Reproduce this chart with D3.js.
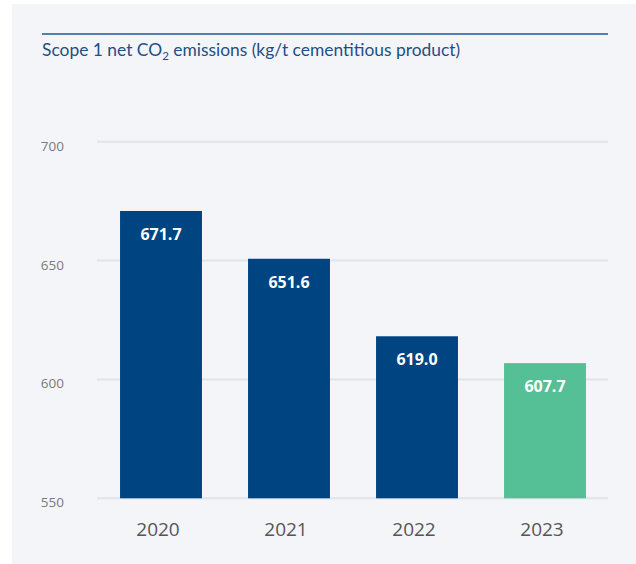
<!DOCTYPE html>
<html>
<head>
<meta charset="utf-8">
<script src="https://cdn.jsdelivr.net/npm/d3@7"></script>
<style>
  html, body { margin: 0; padding: 0; background: #ffffff; }
  svg { display: block; }
</style>
</head>
<body>
<svg id="chart" width="636" height="564"></svg>
<script>
// Scope 1 net CO2 intensity by year
const years = ["2020", "2021", "2022", "2023"];
const emissions = [671.7, 651.6, 619.0, 607.7];
const barColors = ["#004481", "#004481", "#004481", "#55bf96"];
const yTicks = [550, 600, 650, 700];

const svg = d3.select("#chart");
const W = 636, H = 564;

// panel background
svg.append("rect")
  .attr("x", 12).attr("y", 4)
  .attr("width", W - 12).attr("height", H - 4)
  .attr("fill", "#f4f5f9");

// title rule and title
svg.append("line")
  .attr("x1", 42).attr("x2", 608)
  .attr("y1", 34).attr("y2", 34)
  .attr("stroke", "#1b5796").attr("stroke-width", 1.5);

const title = svg.append("text")
  .attr("x", 42).attr("y", 56)
  .attr("fill", "#1e4f86")
  .attr("font-family", "Lato, 'Open Sans', sans-serif")
  .attr("font-size", 17.4);
title.append("tspan").text("Scope 1 net CO");
title.append("tspan").attr("font-size", 11.5).attr("dy", 4).text("2");
title.append("tspan").attr("dy", -4).text(" emissions (kg/t cementitious product)");

const x = d3.scaleBand()
  .domain(years)
  .range([97, 609])
  .paddingInner(0.36)
  .paddingOuter(0.18);

const y = d3.scaleLinear()
  .domain([550, 700])
  .range([498.3, 141.7]);

// gridlines
svg.append("g")
  .selectAll("line")
  .data(yTicks)
  .join("line")
  .attr("x1", 97).attr("x2", 608)
  .attr("y1", d => y(d)).attr("y2", d => y(d))
  .attr("stroke", "#e3e4e8").attr("stroke-width", 2);

// y axis labels
const yAxis = svg.append("g")
  .attr("transform", "translate(64,0)")
  .call(d3.axisLeft(y).tickValues(yTicks).tickSize(0).tickPadding(0));
yAxis.select(".domain").remove();
yAxis.selectAll("text")
  .attr("dy", "0.85em")
  .attr("y", -3)
  .attr("fill", "#7a7a7a")
  .attr("font-family", "'Open Sans', sans-serif")
  .attr("font-size", 13.5);

// bars
svg.append("g")
  .selectAll("rect")
  .data(emissions)
  .join("rect")
  .attr("x", (d, i) => x(years[i]))
  .attr("y", d => y(d) + 2)
  .attr("width", x.bandwidth())
  .attr("height", d => y(550) - y(d) - 2)
  .attr("fill", (d, i) => barColors[i]);

// value labels inside bars
svg.append("g")
  .selectAll("text")
  .data(emissions)
  .join("text")
  .attr("x", (d, i) => x(years[i]) + x.bandwidth() / 2)
  .attr("y", d => y(d) + 31)
  .attr("text-anchor", "middle")
  .attr("fill", "#ffffff")
  .attr("font-family", "'Open Sans', sans-serif")
  .attr("font-weight", 700)
  .attr("font-size", 16)
  .text(d => d.toFixed(1));

// x axis labels
const xAxis = svg.append("g")
  .attr("transform", "translate(-3,0)")
  .call(d3.axisBottom(x).tickSize(0).tickPadding(0));
xAxis.select(".domain").remove();
xAxis.selectAll("text")
  .attr("y", 536)
  .attr("dy", 0)
  .attr("fill", "#555555")
  .attr("font-family", "'Open Sans', sans-serif")
  .attr("font-size", 19);
</script>
</body>
</html>
